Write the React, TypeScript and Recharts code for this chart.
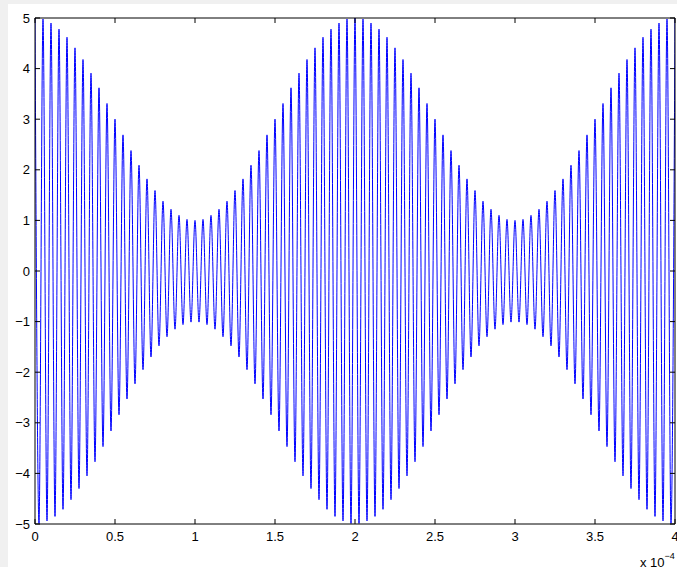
import React from "react";
import { LineChart, Line, XAxis, YAxis } from "recharts";

// Extrema of the carrier (sample index spacing = 0.025e-4 s)
const peakValues = [
  5.0, 4.98, 4.9, 4.78, 4.62, 4.41, 4.18, 3.91, 3.62, 3.31, 3.0, 2.69, 2.38, 2.09, 1.82, 1.59, 1.38, 1.22, 1.1, 1.02, 1.0,
  1.02, 1.1, 1.22, 1.38, 1.59, 1.82, 2.09, 2.38, 2.69, 3.0, 3.31, 3.62, 3.91, 4.18, 4.41, 4.62, 4.78, 4.9, 4.98, 5.0,
  4.98, 4.9, 4.78, 4.62, 4.41, 4.18, 3.91, 3.62, 3.31, 3.0, 2.69, 2.38, 2.09, 1.82, 1.59, 1.38, 1.22, 1.1, 1.02, 1.0,
  1.02, 1.1, 1.22, 1.38, 1.59, 1.82, 2.09, 2.38, 2.69, 3.0, 3.31, 3.62, 3.91, 4.18, 4.41, 4.62, 4.78, 4.9, 4.98, 5.0,
];

const troughValues = [
  -4.99, -4.94, -4.85, -4.71, -4.52, -4.3, -4.05, -3.77, -3.47, -3.16, -2.84, -2.53, -2.23, -1.95, -1.7, -1.48, -1.3, -1.15, -1.06, -1.01,
  -1.01, -1.06, -1.15, -1.3, -1.48, -1.7, -1.95, -2.23, -2.53, -2.84, -3.16, -3.47, -3.77, -4.05, -4.3, -4.52, -4.71, -4.85, -4.94, -4.99,
  -4.99, -4.94, -4.85, -4.71, -4.52, -4.3, -4.05, -3.77, -3.47, -3.16, -2.84, -2.53, -2.23, -1.95, -1.7, -1.48, -1.3, -1.15, -1.06, -1.01,
  -1.01, -1.06, -1.15, -1.3, -1.48, -1.7, -1.95, -2.23, -2.53, -2.84, -3.16, -3.47, -3.77, -4.05, -4.3, -4.52, -4.71, -4.85, -4.94, -4.99,
];

// x ticks are at sample indices; labels in units of 1e-4 s
const xTickIndices = [0, 20, 40, 60, 80, 100, 120, 140, 160];
const xTickLabels = ["0", "0.5", "1", "1.5", "2", "2.5", "3", "3.5", "4"];
const yTicks = [-5, -4, -3, -2, -1, 0, 1, 2, 3, 4, 5];
const yTickLabels = ["\u22125", "\u22124", "\u22123", "\u22122", "\u22121", "0", "1", "2", "3", "4", "5"];

const data: { i: number; v: number }[] = [];
peakValues.forEach((p, k) => {
  data.push({ i: data.length, v: p });
  if (k < troughValues.length) data.push({ i: data.length, v: troughValues[k] });
});

const FONT = "'Liberation Sans', Arial, Helvetica, sans-serif";
const FS = 13;
const TICK = 5;

const BottomTick = (props: any) => {
  const { x, y, payload } = props;
  const idx = xTickIndices.indexOf(payload.value);
  return (
    <g>
      <line x1={x} y1={y} x2={x} y2={y - TICK} stroke="#000" strokeWidth={1} />
      <text x={x} y={y + 17} textAnchor="middle" fontFamily={FONT} fontSize={FS} fill="#000">
        {xTickLabels[idx]}
      </text>
    </g>
  );
};

const TopTick = (props: any) => {
  const { x, y } = props;
  return <line x1={x} y1={y} x2={x} y2={y + TICK} stroke="#000" strokeWidth={1} />;
};

const LeftTick = (props: any) => {
  const { x, y, payload } = props;
  const idx = yTicks.indexOf(payload.value);
  return (
    <g>
      <line x1={x} y1={y} x2={x + TICK} y2={y} stroke="#000" strokeWidth={1} />
      <text x={x - 5} y={y + 4.5} textAnchor="end" fontFamily={FONT} fontSize={FS} fill="#000">
        {yTickLabels[idx]}
      </text>
    </g>
  );
};

const RightTick = (props: any) => {
  const { x, y } = props;
  return <line x1={x} y1={y} x2={x - TICK} y2={y} stroke="#000" strokeWidth={1} />;
};

export default function App() {
  return (
    <div
      style={{
        position: "fixed",
        left: 0,
        top: 0,
        width: 677,
        height: 567,
        background: "#f0f0f0",
        overflow: "hidden",
      }}
    >
      <div style={{ position: "absolute", left: 8, top: 4, width: 669, height: 563, background: "#fff" }}>
        <LineChart width={669} height={563} data={data} margin={{ top: 13, right: 0, bottom: 0, left: 0 }}>
          <XAxis
            xAxisId="b"
            dataKey="i"
            type="number"
            domain={[0, 160]}
            ticks={xTickIndices}
            interval={0}
            orientation="bottom"
            height={43}
            tickSize={0}
            tickMargin={0}
            tick={<BottomTick />}
            axisLine={{ stroke: "#000", strokeWidth: 1 }}
            allowDataOverflow
          />
          <XAxis
            xAxisId="t"
            dataKey="i"
            type="number"
            domain={[0, 160]}
            ticks={xTickIndices}
            interval={0}
            orientation="top"
            height={1}
            tickSize={0}
            tickMargin={0}
            tick={<TopTick />}
            axisLine={{ stroke: "#000", strokeWidth: 1 }}
            allowDataOverflow
          />
          <YAxis
            yAxisId="l"
            type="number"
            domain={[-5, 5]}
            ticks={yTicks}
            interval={0}
            orientation="left"
            width={27}
            tickSize={0}
            tickMargin={0}
            tick={<LeftTick />}
            axisLine={{ stroke: "#000", strokeWidth: 1 }}
            allowDataOverflow
          />
          <YAxis
            yAxisId="r"
            type="number"
            domain={[-5, 5]}
            ticks={yTicks}
            interval={0}
            orientation="right"
            width={2}
            tickSize={0}
            tickMargin={0}
            tick={<RightTick />}
            axisLine={{ stroke: "#000", strokeWidth: 1 }}
            allowDataOverflow
          />
          <Line
            xAxisId="b"
            yAxisId="l"
            dataKey="v"
            type="monotone"
            stroke="#0000ff"
            strokeWidth={1}
            dot={false}
            activeDot={false}
            isAnimationActive={false}
          />
        </LineChart>
      </div>
      <svg
        width={677}
        height={567}
        style={{ position: "absolute", left: 0, top: 0, pointerEvents: "none" }}
      >
        <text x={640} y={567} fontFamily={FONT} fontSize={FS} fill="#000">
          x 10
          <tspan dy={-8} fontSize={9}>
            {"\u22124"}
          </tspan>
        </text>
      </svg>
    </div>
  );
}
